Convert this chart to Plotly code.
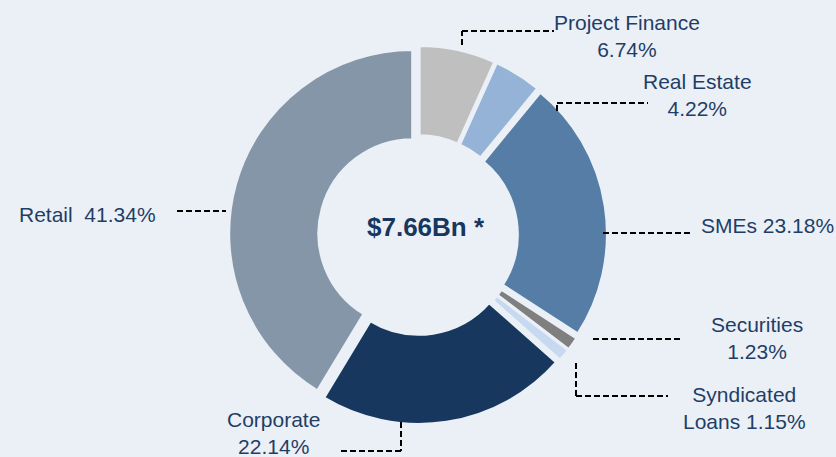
import plotly.graph_objects as go

# ---- data ----
categories = ["Project Finance", "Real Estate", "SMEs", "Securities",
              "Syndicated Loans", "Corporate", "Retail"]
shares = [6.74, 4.22, 23.18, 1.23, 1.15, 22.14, 41.34]
colors = ["#BFBFBF", "#95B3D7", "#567DA6", "#7F7F7F",
          "#C6D9F1", "#17375E", "#8596A8"]
label_texts = ["Project Finance<br>6.74%", "Real Estate<br>4.22%", "SMEs 23.18%",
               "Securities<br>1.23%", "Syndicated<br>Loans 1.15%",
               "Corporate<br>22.14%", "Retail  41.34%"]
center_text = "$7.66Bn *"

W, H = 836, 457
BG = "#EBF0F7"
TXT = "#1F3E66"
FONT = "Liberation Sans, Arial, sans-serif"


def px(x):
    return x / W


def py(y):
    return 1 - y / H


fig = go.Figure()
fig.add_trace(go.Pie(
    labels=categories,
    values=shares,
    sort=False,
    direction="clockwise",
    rotation=0,
    hole=0.51,
    pull=[0.03] * len(shares),
    marker=dict(colors=colors, line=dict(color=BG, width=3)),
    textinfo="none",
    hoverinfo="label+percent",
    showlegend=False,
    domain=dict(x=[px(228.5), px(607.5)], y=[py(424.5), py(45.5)]),
))

# label anchor positions (pixels) -- layout only
label_pos = [
    (627, 35.5, "center"),
    (697, 95, "center"),
    (699, 225, "left"),
    (757, 337.5, "center"),
    (744.5, 408, "center"),
    (273, 433, "center"),
    (17, 214, "left"),
]
annotations = []
for txt, (x, y, anc) in zip(label_texts, label_pos):
    annotations.append(dict(
        x=px(x), y=py(y), xref="paper", yref="paper", text=txt,
        showarrow=False, xanchor=anc, yanchor="middle", align="center",
        font=dict(family=FONT, size=21, color=TXT)))
annotations.append(dict(
    x=px(425.5), y=py(227), xref="paper", yref="paper",
    text="<b>" + center_text + "</b>", showarrow=False,
    xanchor="center", yanchor="middle",
    font=dict(family=FONT, size=26, color="#17375E")))

# leader line paths (pixels)
leaders = [
    [(462, 45), (462, 31), (554, 31)],
    [(557, 111), (557, 103), (648, 103)],
    [(603, 233), (693, 233)],
    [(593, 339), (682, 339)],
    [(576, 363), (576, 396), (668, 396)],
    [(401, 422), (401, 451), (338, 451)],
    [(177, 211), (226, 211)],
]
shapes = []
for path in leaders:
    for (x0, y0), (x1, y1) in zip(path[:-1], path[1:]):
        shapes.append(dict(
            type="line", xref="paper", yref="paper",
            x0=px(x0), y0=py(y0), x1=px(x1), y1=py(y1),
            line=dict(color="black", width=2, dash="6px,3px")))

fig.update_layout(
    width=W, height=H,
    margin=dict(l=0, r=0, t=0, b=0),
    paper_bgcolor=BG, plot_bgcolor=BG,
    annotations=annotations, shapes=shapes,
)
fig.write_html(
    "out.html",
    config={"displayModeBar": False},
    post_script="document.body.style.margin='0';document.body.style.overflow='hidden';",
)
